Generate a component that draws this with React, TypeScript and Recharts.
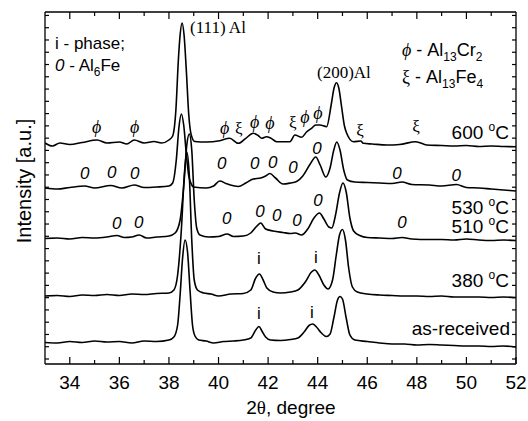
import React from "react";
import { LineChart, Line, XAxis, YAxis, ReferenceDot } from "recharts";

type Pt = [number, number];

// 2theta (deg), stacked intensity (a.u.)
const asReceived: Pt[] = [
  [33.0, 21.5], [33.5, 21], [34.0, 22.5], [34.5, 21.5], [35.0, 23], [35.5, 22], [36.0, 22.5],
  [36.5, 21], [37.0, 23], [37.5, 22.5], [38.0, 24], [38.2, 27], [38.35, 39], [38.45, 69],
  [38.55, 106], [38.65, 124], [38.75, 112], [38.85, 74], [38.95, 39], [39.05, 28], [39.2, 24],
  [39.5, 23], [39.8, 21], [40.2, 22.5], [40.6, 23], [41.0, 24], [41.3, 26], [41.5, 34],
  [41.63, 37.5], [41.75, 33], [41.9, 27], [42.1, 24], [42.5, 23.5], [42.9, 24.5], [43.2, 26],
  [43.45, 32], [43.65, 38.5], [43.8, 40], [43.95, 37], [44.15, 31], [44.35, 27.5], [44.5, 30],
  [44.65, 46], [44.8, 64], [44.9, 67.5], [45.0, 65], [45.15, 46], [45.3, 29], [45.5, 24],
  [46.0, 22.5], [46.5, 21], [47.0, 20], [47.5, 20], [48.0, 19], [48.5, 19.5], [49.0, 19],
  [49.5, 18.5], [50.0, 18], [50.5, 18], [51.0, 17.5], [51.5, 18], [52.0, 17],
];

const t380: Pt[] = [
  [33.0, 68], [33.5, 68.5], [34.0, 67.5], [34.5, 69], [35.0, 68.5], [35.5, 69.5], [36.0, 68.5],
  [36.5, 70], [37.0, 69.5], [37.5, 70.5], [38.0, 71], [38.2, 74], [38.35, 89], [38.5, 134],
  [38.62, 189], [38.72, 212], [38.82, 189], [38.92, 124], [39.02, 84], [39.15, 74], [39.4, 71],
  [39.7, 70], [40.0, 68], [40.5, 70], [41.0, 70.5], [41.3, 74], [41.5, 86], [41.65, 90],
  [41.8, 84], [41.95, 76], [42.2, 72], [42.5, 71], [42.9, 72], [43.2, 74], [43.5, 82],
  [43.75, 92], [43.88, 94], [44.05, 89], [44.25, 79], [44.42, 75], [44.6, 84], [44.75, 109],
  [44.88, 129], [45.0, 134.5], [45.12, 124], [45.25, 96], [45.4, 77], [45.6, 72], [46.0, 70],
  [46.5, 69], [47.0, 68.5], [47.5, 68], [48.0, 68], [48.5, 67.5], [49.0, 68], [49.5, 67],
  [50.0, 67], [50.5, 67], [51.0, 66.5], [51.5, 67], [52.0, 66.5],
];

const t510: Pt[] = [
  [33.0, 125.5], [33.5, 126], [34.0, 125], [34.5, 126.5], [35.0, 126], [35.5, 127], [35.9, 128.5],
  [36.2, 126.5], [36.5, 127], [36.8, 129], [37.1, 126], [37.5, 127], [38.0, 128], [38.25, 131],
  [38.45, 144], [38.6, 179], [38.72, 219], [38.82, 230], [38.92, 214], [39.02, 164], [39.12, 136],
  [39.25, 129], [39.6, 127], [40.0, 127.5], [40.35, 130], [40.6, 127.5], [41.0, 128], [41.3, 131],
  [41.55, 138], [41.7, 141], [41.9, 135], [42.2, 133], [42.6, 131.5], [42.9, 130.5], [43.1, 131],
  [43.35, 129], [43.6, 135], [43.85, 146], [44.07, 151], [44.25, 145], [44.45, 137], [44.57, 136],
  [44.72, 149], [44.88, 171], [45.02, 181], [45.15, 172], [45.3, 146], [45.45, 133], [45.7, 128.5],
  [46.0, 126.5], [46.5, 126], [47.0, 125.5], [47.4, 126.5], [47.8, 125], [48.5, 124.5], [49.0, 124.5],
  [49.5, 124], [50.0, 125], [50.5, 124], [51.0, 123.5], [51.5, 124], [52.0, 123.5],
];

const t530: Pt[] = [
  [33.0, 176], [33.5, 175], [34.0, 176.5], [34.6, 178], [35.0, 176], [35.65, 178.5], [36.1, 176],
  [36.6, 179], [37.0, 176.5], [37.5, 177], [38.0, 178], [38.15, 181], [38.3, 205], [38.4, 236],
  [38.5, 250], [38.6, 238], [38.7, 210], [38.8, 188], [38.92, 179], [39.0, 177], [39.5, 176],
  [39.8, 178], [40.05, 183], [40.3, 180.5], [40.8, 177.5], [41.1, 181], [41.4, 185], [41.7, 186],
  [41.9, 188], [42.07, 190.5], [42.3, 186], [42.6, 180], [42.9, 181], [43.15, 182.5], [43.4, 188],
  [43.7, 200], [43.92, 207], [44.1, 199], [44.33, 187], [44.5, 196], [44.65, 214], [44.77, 222],
  [44.9, 214], [45.05, 194], [45.2, 184], [45.5, 182], [46.0, 181.5], [46.5, 181], [47.0, 180.5],
  [47.4, 182], [47.8, 179.5], [48.5, 179], [49.0, 178], [49.6, 179.5], [50.0, 176.5], [50.5, 176],
  [51.0, 175], [51.5, 174], [52.0, 173],
];

const t600: Pt[] = [
  [33.0, 221], [33.3, 218], [33.6, 221], [34.0, 219.5], [34.5, 221.5], [35.1, 224], [35.5, 221],
  [36.0, 222], [36.3, 220], [36.6, 224], [37.0, 221], [37.4, 222.5], [37.7, 221], [38.0, 224],
  [38.15, 228], [38.28, 254], [38.38, 304], [38.45, 329], [38.53, 341], [38.61, 329], [38.7, 294],
  [38.8, 249], [38.9, 229], [39.04, 222.5], [39.5, 222], [40.05, 223.3], [40.45, 225.7], [40.8, 220.7],
  [41.1, 225.7], [41.4, 230.7], [41.6, 228.5], [41.74, 225.7], [41.94, 227.3], [42.1, 226], [42.34, 222.3],
  [42.88, 222.3], [43.08, 229], [43.35, 226.7], [43.55, 232], [43.75, 235.7], [43.92, 239], [44.09, 239],
  [44.36, 237.3], [44.55, 260], [44.66, 276], [44.76, 281.3], [44.86, 275], [44.96, 258], [45.08, 238],
  [45.17, 230.7], [45.44, 222.3], [45.74, 223], [45.84, 220.7], [46.2, 220], [46.8, 219], [47.3, 219.5],
  [47.96, 222.3], [48.4, 219], [49.0, 218.5], [49.5, 218], [50.0, 218.5], [50.5, 217.5], [51.0, 218],
  [51.5, 217.5], [52.0, 217.3],
];

const traces = [asReceived, t380, t510, t530, t600];

const phiMarks: Pt[] = [
  [35.08, 237], [36.62, 237], [40.25, 236], [41.46, 242], [42.07, 241], [43.48, 247], [44.01, 251],
];
const xiMarks: Pt[] = [[40.82, 236], [43.0, 242], [45.71, 234], [47.97, 238]];
const zeroMarks: Pt[] = [
  // 530 C
  [34.6, 191], [35.69, 192], [36.62, 191], [40.13, 201], [41.46, 201], [42.19, 202], [43.0, 197],
  [43.97, 216], [47.2, 191], [49.59, 189],
  // 510 C
  [35.89, 141], [36.78, 142], [40.33, 146], [41.67, 153], [42.35, 149], [43.16, 144], [44.01, 164],
  [47.4, 142],
];
const iMarks: Pt[] = [[41.63, 106], [43.93, 107], [41.63, 51], [43.77, 52]];

const xTicks = [33, 34, 35, 36, 37, 38, 39, 40, 41, 42, 43, 44, 45, 46, 47, 48, 49, 50, 51, 52];
const yTicks = Array.from({ length: 29 }, (_, k) => 5 + k * 12.27);

const SANS = "'Liberation Sans', Arial, sans-serif";
const SERIF = "'Liberation Serif', 'Times New Roman', serif";

const BottomTick = (p: any) => {
  const v = p.payload.value;
  if (v === 33) return <g />;
  const major = v % 2 === 0;
  return (
    <g>
      <line x1={p.x} x2={p.x} y1={p.y} y2={p.y - (major ? 7 : 4)} stroke="#000" strokeWidth={1.2} />
      {major && (
        <text x={p.x} y={p.y + 24.5} textAnchor="middle" fontSize={19} fontFamily={SANS} fill="#000">
          {v}
        </text>
      )}
    </g>
  );
};

const TopTick = (p: any) => {
  const v = p.payload.value;
  if (v === 33 || v === 52) return <g />;
  const major = v % 2 === 0;
  return <line x1={p.x} x2={p.x} y1={p.y} y2={p.y + (major ? 7 : 4)} stroke="#000" strokeWidth={1.2} />;
};

const LeftTick = (p: any) => <line x1={p.x} x2={p.x + 4} y1={p.y} y2={p.y} stroke="#000" strokeWidth={1.2} />;
const RightTick = (p: any) => <line x1={p.x} x2={p.x - 4} y1={p.y} y2={p.y} stroke="#000" strokeWidth={1.2} />;

const mark = (s: string, family: string, size: number, italic: boolean) => (p: any) => (
  <text x={p.cx} y={p.cy} textAnchor="middle" dominantBaseline="central" fontSize={size}
    fontFamily={family} fontStyle={italic ? "italic" : "normal"} fill="#000">
    {s}
  </text>
);

const Deg = () => (
  <>
    <tspan fontSize={12} dy={-8}>o</tspan>
    <tspan dy={8}>C</tspan>
  </>
);

export default function App() {
  const axisLine = { stroke: "#000", strokeWidth: 1.3 };
  return (
    <div style={{ position: "absolute", left: 0, top: 0, width: 528, height: 421, background: "#fff" }}>
      <LineChart width={528} height={421} margin={{ top: 11, right: 11, bottom: 56, left: 44 }}>
        <XAxis dataKey="t" type="number" domain={[33, 52]} ticks={xTicks} interval={0} allowDataOverflow
          height={1} tickSize={0} tickMargin={0} tickLine={false} axisLine={axisLine} tick={BottomTick} />
        <XAxis xAxisId="top" orientation="top" dataKey="t" type="number" domain={[33, 52]} ticks={xTicks}
          interval={0} allowDataOverflow height={1} tickSize={0} tickMargin={0} tickLine={false}
          axisLine={axisLine} tick={TopTick} />
        <YAxis type="number" domain={[0, 352]} ticks={yTicks} interval={0} allowDataOverflow width={1}
          tickSize={0} tickMargin={0} tickLine={false} axisLine={axisLine} tick={LeftTick} />
        <YAxis yAxisId="r" orientation="right" type="number" domain={[0, 352]} ticks={yTicks} interval={0}
          allowDataOverflow width={1} tickSize={0} tickMargin={0} tickLine={false} axisLine={axisLine}
          tick={RightTick} />
        {traces.map((d, i) => (
          <Line key={i} data={d.map(([t, v]) => ({ t, v }))} dataKey="v" type="monotone" dot={false}
            stroke="#000" strokeWidth={1.6} isAnimationActive={false} />
        ))}
        {phiMarks.map(([t, v], i) => (
          <ReferenceDot key={"p" + i} x={t} y={v} r={0} shape={mark("\u03d5", SERIF, 18, true)} />
        ))}
        {xiMarks.map(([t, v], i) => (
          <ReferenceDot key={"x" + i} x={t} y={v} r={0} shape={mark("\u03be", SERIF, 17, false)} />
        ))}
        {zeroMarks.map(([t, v], i) => (
          <ReferenceDot key={"z" + i} x={t} y={v} r={0} shape={mark("0", SANS, 17, true)} />
        ))}
        {iMarks.map(([t, v], i) => (
          <ReferenceDot key={"i" + i} x={t} y={v} r={0} shape={mark("i", SANS, 17, false)} />
        ))}
      </LineChart>
      <svg width={528} height={421} style={{ position: "absolute", left: 0, top: 0, pointerEvents: "none" }}>
        <g fill="#000" fontFamily={SANS}>
          <text x={190} y={33} fontFamily={SERIF} fontSize={17}>(111) Al</text>
          <text x={317} y={78} fontFamily={SERIF} fontSize={17}>(200)Al</text>
          <text x={55} y={49} fontSize={17}>i - phase;</text>
          <text x={55} y={71} fontSize={17}>
            <tspan fontStyle="italic">0</tspan> - Al<tspan fontSize={12} dy={5}>6</tspan>
            <tspan dy={-5}>Fe</tspan>
          </text>
          <text x={402} y={56} fontSize={18}>
            <tspan fontFamily={SERIF} fontStyle="italic">{"\u03d5"}</tspan> - Al
            <tspan fontSize={12} dy={5}>13</tspan><tspan dy={-5}>Cr</tspan>
            <tspan fontSize={12} dy={5}>2</tspan>
          </text>
          <text x={402} y={83} fontSize={18}>
            <tspan fontFamily={SERIF}>{"\u03be"}</tspan> - Al
            <tspan fontSize={12} dy={5}>13</tspan><tspan dy={-5}>Fe</tspan>
            <tspan fontSize={12} dy={5}>4</tspan>
          </text>
          <text x={509} y={139} fontSize={19} textAnchor="end">600 <Deg /></text>
          <text x={509} y={214} fontSize={19} textAnchor="end">530 <Deg /></text>
          <text x={509} y={233} fontSize={19} textAnchor="end">510 <Deg /></text>
          <text x={509} y={287} fontSize={19} textAnchor="end">380 <Deg /></text>
          <text x={510} y={335} fontSize={19} textAnchor="end">as-received</text>
          <text x={291} y={414} fontSize={19} textAnchor="middle">
            2<tspan fontFamily={SERIF}>{"\u03b8"}</tspan>, degree
          </text>
          <text transform="translate(24,181) rotate(-90)" fontSize={20} textAnchor="middle"
            dominantBaseline="central">Intensity [a.u.]</text>
        </g>
      </svg>
    </div>
  );
}
